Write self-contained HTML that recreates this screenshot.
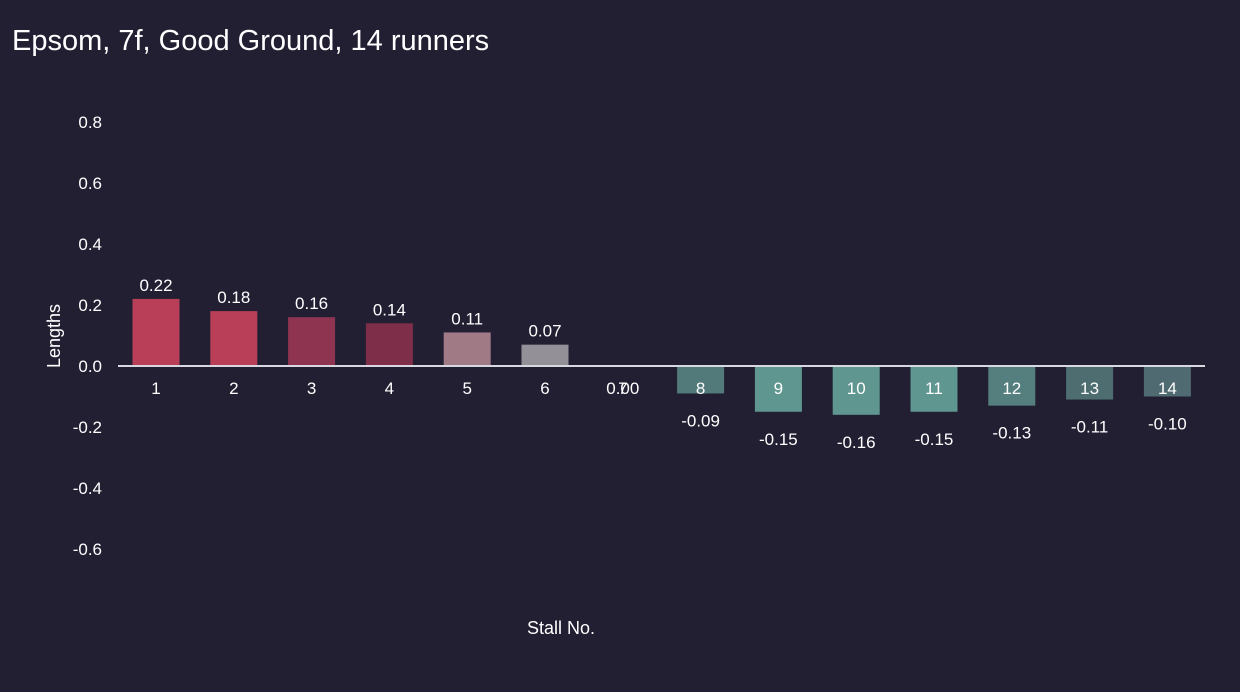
<!DOCTYPE html>
<html><head><meta charset="utf-8"><style>
body{margin:0;background:#221f33;}
svg{display:block;font-family:"Liberation Sans",sans-serif;}
</style></head><body>
<svg width="1240" height="692">
<rect width="1240" height="692" fill="#221f33"/>
<text x="12" y="50" fill="#ffffff" font-size="29">Epsom, 7f, Good Ground, 14 runners</text>
<text transform="translate(60,336) rotate(-90)" fill="#fff" font-size="18" text-anchor="middle">Lengths</text>
<text x="561" y="634" fill="#fff" font-size="18" text-anchor="middle">Stall No.</text>
<g id="yticks"></g><g id="bars"></g>
<line x1="118" x2="1205" y1="366" y2="366" stroke="#d8d8e0" stroke-width="2"/>
<g id="labels"></g>
</svg>
<script>
const stalls=["1","2","3","4","5","6","7","8","9","10","11","12","13","14"];
const values=[0.22,0.18,0.16,0.14,0.11,0.07,0.00,-0.09,-0.15,-0.16,-0.15,-0.13,-0.11,-0.10];
const colors=["#b83f57","#b83f57","#8f3450","#7e2e48","#a07a85","#939097","#939097","#527a7a","#5f9690","#5f9690","#5f9690","#557f7e","#4d6d70","#4f6a70"];
const yTicks=[0.8,0.6,0.4,0.2,0.0,-0.2,-0.4,-0.6];
const NS="http://www.w3.org/2000/svg";
const y=v=>366-v*305;
const x=i=>156+i*77.8;
const bw=47;
function mk(t,a,p){const e=document.createElementNS(NS,t);for(const k in a)e.setAttribute(k,a[k]);p.appendChild(e);return e;}
const yt=document.getElementById('yticks');
yTicks.forEach(t=>{
 const e=mk('text',{x:102,y:y(t)+6,fill:'#fff','font-size':17,'text-anchor':'end'},yt);
 
 
 e.textContent=t.toFixed(1);
});
const bg=document.getElementById('bars'),lg=document.getElementById('labels');
values.forEach((v,i)=>{
 const top=Math.min(y(v),y(0)),h=Math.abs(y(v)-y(0));
 const r=mk('rect',{x:x(i)-bw/2,y:top,width:bw,height:h,fill:colors[i]},bg);
 
 
 const s=mk('text',{x:x(i),y:394,fill:'#fff','font-size':17,'text-anchor':'middle'},lg);
 
 
 s.textContent=stalls[i];
 const ly=v>=0?y(v)-14:y(v)+27;
 const l=mk('text',{x:x(i),y:v===0?394:ly+6,fill:'#fff','font-size':17,'text-anchor':'middle'},lg);
 
 
 l.textContent=v.toFixed(2);
});
</script>
</body></html>
